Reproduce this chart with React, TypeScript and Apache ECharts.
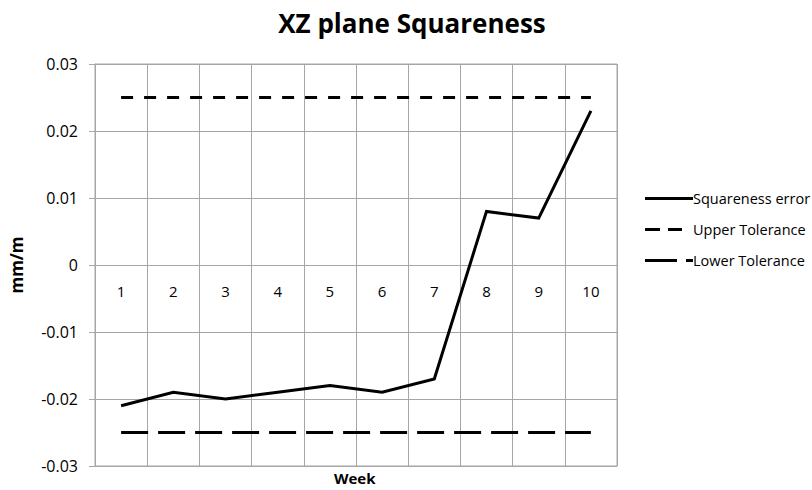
import React, { useEffect, useRef } from "react";
import * as echarts from "echarts";

const weeks = ["1", "2", "3", "4", "5", "6", "7", "8", "9", "10"];
const squarenessError = [-0.021, -0.019, -0.02, -0.019, -0.018, -0.019, -0.017, 0.008, 0.007, 0.023];
const upperTolerance = [0.025, 0.025, 0.025, 0.025, 0.025, 0.025, 0.025, 0.025, 0.025, 0.025];
const lowerTolerance = [-0.025, -0.025, -0.025, -0.025, -0.025, -0.025, -0.025, -0.025, -0.025, -0.025];

const FONT = "'Open Sans', 'Noto Sans', sans-serif";
const GRID = "#a6a6a6";

export default function App() {
  const ref = useRef<HTMLDivElement>(null);
  useEffect(() => {
    const chart = echarts.init(ref.current!, null, { renderer: "svg" });
    chart.setOption({
      animation: false,
      backgroundColor: "#ffffff",
      title: {
        text: "XZ plane Squareness",
        left: 407,
        textAlign: "center",
        top: 5,
        textStyle: { fontFamily: FONT, fontSize: 26, fontWeight: "bold", color: "#000" },
      },
      legend: {
        orient: "vertical",
        left: 640,
        top: 186,
        itemWidth: 48,
        itemHeight: 3,
        itemGap: 16,
        textStyle: { fontFamily: FONT, fontSize: 14.5, lineHeight: 14, color: "#000", padding: [0, 0, 0, -5] },
        data: [
          { name: "Squareness error", icon: "path://M0,0H48V3H0Z", itemStyle: { color: "#000" } },
          {
            name: "Upper Tolerance",
            icon: "path://M0,0H15V3H0Z M23,0H37V3H23Z M47.9,1.4H48V1.6H47.9Z",
            itemStyle: { color: "#000" },
          },
          { name: "Lower Tolerance", icon: "path://M0,0H32V3H0Z M41,0H48V3H41Z", itemStyle: { color: "#000" } },
        ],
      },
      grid: {
        left: 95,
        top: 64,
        width: 522,
        height: 402,
        show: true,
        borderColor: GRID,
        borderWidth: 1,
        outerBoundsMode: "none",
        containLabel: false,
      },
      xAxis: {
        type: "category",
        data: weeks,
        boundaryGap: true,
        axisLine: { show: true, onZero: false, lineStyle: { color: GRID, width: 1 } },
        axisTick: { show: false },
        axisLabel: { margin: -183, fontFamily: FONT, fontSize: 15, color: "#000" },
        splitLine: { show: true, interval: 0, lineStyle: { color: GRID, width: 1 } },
      },
      yAxis: {
        type: "value",
        min: -0.03,
        max: 0.03,
        interval: 0.01,
        name: "mm/m",
        nameLocation: "middle",
        nameGap: 70,
        nameTextStyle: { fontFamily: FONT, fontSize: 17, fontWeight: "bold", color: "#000" },
        axisLine: { show: true, lineStyle: { color: GRID, width: 1 } },
        axisTick: { show: true, length: 6, lineStyle: { color: GRID } },
        axisLabel: {
          margin: 17,
          fontFamily: FONT,
          fontSize: 16,
          color: "#000",
          formatter: (v: number) => {
            const r = Math.round(v * 100) / 100;
            return r === 0 ? "0" : r.toFixed(2);
          },
        },
        splitLine: { show: true, lineStyle: { color: GRID, width: 1 } },
      },
      graphic: [
        {
          type: "text",
          left: 334,
          top: 470,
          style: { text: "Week", fontFamily: FONT, fontSize: 15, fontWeight: "bold", fill: "#000" },
        },
      ],
      series: [
        {
          name: "Squareness error",
          type: "line",
          data: squarenessError,
          symbol: "none",
          lineStyle: { color: "#000", width: 3, join: "miter" },
          itemStyle: { color: "#000" },
        },
        {
          name: "Upper Tolerance",
          type: "line",
          data: upperTolerance,
          symbol: "none",
          lineStyle: { color: "#000", width: 3, type: [12, 11], cap: "butt" },
          itemStyle: { color: "#000" },
        },
        {
          name: "Lower Tolerance",
          type: "line",
          data: lowerTolerance,
          symbol: "none",
          lineStyle: { color: "#000", width: 3, type: [27, 10], cap: "butt" },
          itemStyle: { color: "#000" },
        },
      ],
    });
    return () => chart.dispose();
  }, []);
  return (
    <div
      ref={ref}
      style={{ position: "fixed", left: 0, top: 0, width: 812, height: 490, background: "#fff" }}
    />
  );
}
